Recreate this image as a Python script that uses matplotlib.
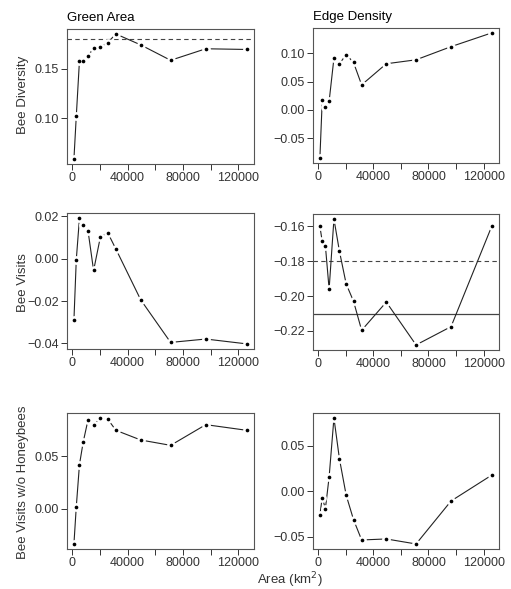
import matplotlib
matplotlib.use("Agg")
import matplotlib.pyplot as plt

plt.rcParams['font.family'] = ['Liberation Sans', 'DejaVu Sans']

# common area values (km2)
area = [1200, 2900, 5200, 7900, 11400, 15400, 20300, 25600, 31500, 49400, 71000, 96400, 126100]

div_green = [0.0589, 0.102, 0.158, 0.1573, 0.1623, 0.1709, 0.1715, 0.1762, 0.1848, 0.1738, 0.1583, 0.1699, 0.1692]
div_edge = [-0.0852, 0.0169, 0.0058, 0.0152, 0.0916, 0.0817, 0.098, 0.084, 0.0443, 0.0817, 0.0887, 0.112, 0.1365]
vis_green = [-0.029, -0.0005, 0.0191, 0.016, 0.013, -0.0056, 0.0102, 0.0122, 0.0045, -0.0194, -0.0395, -0.0379, -0.0402]
vis_edge = [-0.16, -0.1686, -0.1712, -0.196, -0.1558, -0.1743, -0.1931, -0.2029, -0.2196, -0.2034, -0.228, -0.2175, -0.1596]
nohb_green = [-0.0335, 0.0019, 0.0421, 0.0636, 0.0848, 0.0797, 0.0864, 0.0854, 0.0747, 0.0655, 0.0604, 0.0801, 0.0747]
nohb_edge = [-0.0259, -0.0069, -0.019, 0.0157, 0.0803, 0.0354, -0.0044, -0.031, -0.0533, -0.0522, -0.0577, -0.0106, 0.0179]

W, H = 511, 589
fig = plt.figure(figsize=(W / 100, H / 100), dpi=100)

def box(l, r, t, b):
    return [l / W, 1 - b / H, (r - l) / W, (b - t) / H]

def lab(v):
    s = '%.2f' % abs(v)
    return ('\u2212' + s) if v < -1e-9 else s

panels = [
    (box(67, 254, 29, 164), div_green, [0.10, 0.15], (0.0539, 0.1898)),
    (box(313, 499, 28, 163), div_edge, [-0.05, 0.0, 0.05, 0.10], (-0.094, 0.145)),
    (box(67, 254, 213, 349), vis_green, [-0.04, -0.02, 0.0, 0.02], (-0.0426, 0.0215)),
    (box(313, 499, 214, 350), vis_edge, [-0.22, -0.20, -0.18, -0.16], (-0.2309, -0.1529)),
    (box(67, 254, 413, 549), nohb_green, [0.0, 0.05], (-0.0383, 0.0912)),
    (box(313, 499, 413, 549), nohb_edge, [-0.05, 0.0, 0.05], (-0.0632, 0.0858)),
]

axes = []
for rect, vals, yt, yl in panels:
    ax = fig.add_axes(rect)
    ax.plot(area, vals, color='#222222', lw=0.8, zorder=2)
    ax.scatter(area, vals, s=40, color='white', zorder=3, linewidths=0)
    ax.scatter(area, vals, s=7, color='black', zorder=4, linewidths=0)
    ax.set_xlim(-3800, 131200)
    ax.set_ylim(*yl)
    ax.set_xticks([0, 20000, 40000, 60000, 80000, 100000, 120000])
    ax.set_xticklabels(['0', '', '40000', '', '80000', '', '120000'])
    ax.set_yticks(yt)
    ax.set_yticklabels([lab(v) for v in yt])
    ax.tick_params(direction='out', length=4, width=0.7, colors='#333333', labelsize=9, pad=2)
    for s in ax.spines.values():
        s.set_color('#555555')
        s.set_linewidth(0.8)
    axes.append(ax)

axes[0].axhline(0.18, color='#444444', lw=0.8, ls=(0, (4, 3)), zorder=1)
axes[3].axhline(-0.18, color='#444444', lw=0.8, ls=(0, (4, 3)), zorder=1)
axes[3].axhline(-0.21, color='#444444', lw=0.9, zorder=1)

axes[0].set_title('Green Area', loc='left', fontsize=9.5, pad=6)
axes[1].set_title('Edge Density', loc='left', fontsize=9.5, pad=6)

fig.text(23 / W, 1 - 95 / H, 'Bee Diversity', rotation=90, ha='center', va='center', fontsize=9.5, color='#333333')
fig.text(23 / W, 1 - 283 / H, 'Bee Visits', rotation=90, ha='center', va='center', fontsize=9.5, color='#333333')
fig.text(23 / W, 1 - 482 / H, 'Bee Visits w/o Honeybees', rotation=90, ha='center', va='center', fontsize=9.5, color='#333333')
fig.text(290 / W, 1 - 580 / H, 'Area (km$^2$)', ha='center', va='center', fontsize=9.5, color='#333333')

fig.savefig('out.png', dpi=100)
